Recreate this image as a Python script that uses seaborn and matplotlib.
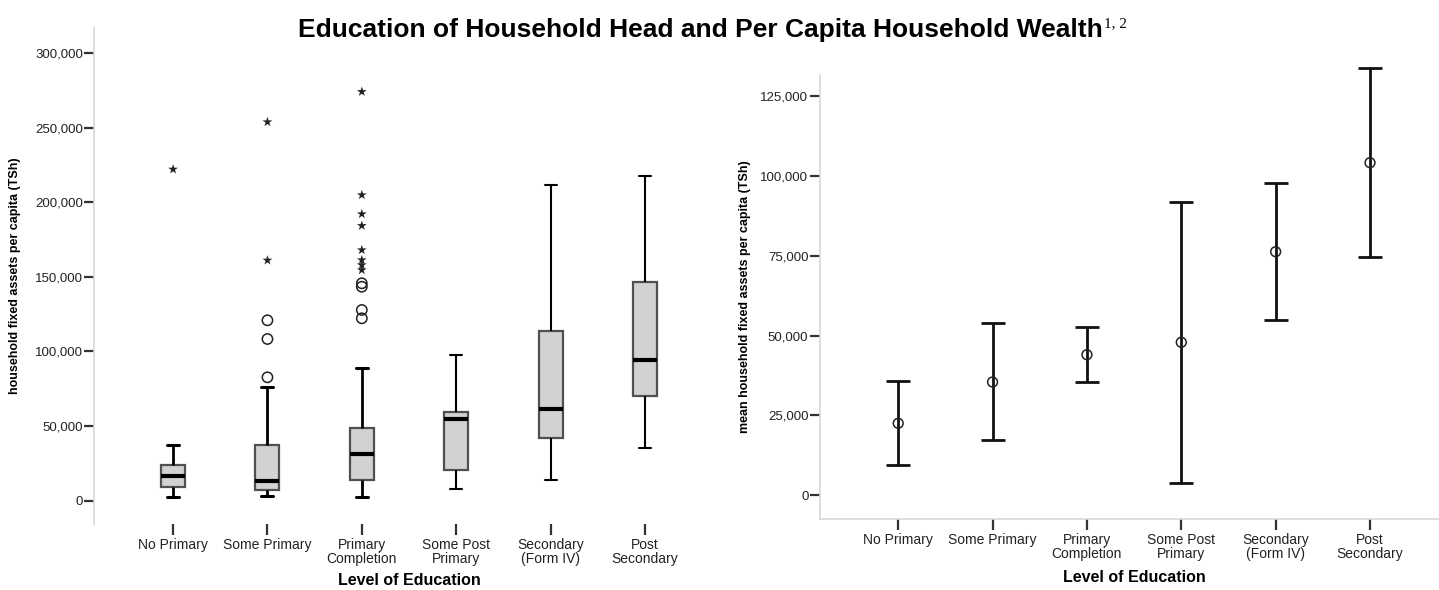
import numpy as np
import pandas as pd
import matplotlib
matplotlib.use("Agg")
import matplotlib.pyplot as plt
from matplotlib.ticker import FuncFormatter
import seaborn as sns

# ---------------- data ----------------
categories = ["No Primary", "Some Primary", "Primary\nCompletion",
              "Some Post\nPrimary", "Secondary\n(Form IV)", "Post\nSecondary"]

# boxplot five-number summaries (TSh)
whisker_low = [2350, 3020, 2350, 7710, 13550, 35020]
box_q1 = [9260, 7040, 13950, 20460, 41920, 70100]
box_median = [16430, 12880, 31390, 54470, 61180, 94050]
box_q3 = [23800, 37430, 48430, 59570, 113700, 146770]
whisker_high = [37560, 76140, 89080, 97600, 211640, 217680]

# outliers (circles) and extremes (stars)
outlier_cat = ["Some Primary"] * 3 + ["Primary\nCompletion"] * 4
outlier_val = [120880, 108330, 82640, 145700, 143400, 127800, 122220]
extreme_cat = ["No Primary", "Some Primary", "Some Primary"] + ["Primary\nCompletion"] * 8
extreme_val = [222170, 253900, 161120, 274220, 204930, 192180, 184330,
               168040, 161330, 157970, 154610]

# means with error bars (right panel)
mean_val = [22480, 35420, 43980, 47870, 76270, 104170]
ci_low = [9350, 17150, 35420, 3860, 54760, 74610]
ci_high = [35740, 53820, 52660, 91940, 97810, 133760]

left_yticks = [0, 50000, 100000, 150000, 200000, 250000, 300000]
right_yticks = [0, 25000, 50000, 75000, 100000, 125000]

title_text = "Education of Household Head and Per Capita Household Wealth"
title_sup = "1, 2"
left_ylabel = "household fixed assets per capita (TSh)"
right_ylabel = "mean household fixed assets per capita (TSh)"
xlabel_text = "Level of Education"

# ---------------- style ----------------
sns.set_style("white")
plt.rcParams["font.family"] = ["Liberation Sans", "DejaVu Sans"]
plt.rcParams["text.color"] = "black"
plt.rcParams["axes.labelcolor"] = "black"

W, H = 1439, 590
fig = plt.figure(figsize=(W / 100, H / 100), dpi=100)

def fig_rect(x0, y0, x1, y1):
    return [x0 / W, 1 - y1 / H, (x1 - x0) / W, (y1 - y0) / H]

ax1 = fig.add_axes(fig_rect(94, 28, 724, 524))
ax2 = fig.add_axes(fig_rect(819.5, 75, 1449, 519))

pos = {c: i for i, c in enumerate(categories)}
fmt = FuncFormatter(lambda v, p: f"{int(v):,}")

# ---------------- left: boxplot ----------------
rows = []
for i, c in enumerate(categories):
    for v in (whisker_low[i], box_q1[i], box_median[i], box_q3[i], whisker_high[i]):
        rows.append((c, v))
box_df = pd.DataFrame(rows, columns=["level", "value"])

sns.boxplot(data=box_df, x="level", y="value", order=categories, ax=ax1,
            whis=(0, 100), width=0.255, color="#d2d2d2", saturation=1,
            showfliers=False, linewidth=1.6, linecolor="#505050",
            medianprops=dict(color="black", linewidth=3),
            whiskerprops=dict(color="black", linewidth=2),
            capprops=dict(color="black", linewidth=2.2))

# thinner whiskers on the last three boxes, as in the reference
for ln in ax1.lines:
    lw = ln.get_linewidth()
    xd = np.asarray(ln.get_xdata(), dtype=float)
    if lw in (2.0, 2.2) and xd.size and xd.mean() > 2.5:
        ln.set_linewidth(1.5)

sns.scatterplot(x=[pos[c] for c in outlier_cat], y=outlier_val, ax=ax1,
                marker="o", s=55, facecolor="none", edgecolor="#222222",
                linewidth=1.1, zorder=5)
sns.scatterplot(x=[pos[c] for c in extreme_cat], y=extreme_val, ax=ax1,
                marker="*", s=55, color="#222222", edgecolor="none",
                linewidth=0, zorder=5)

ax1.set_xlim(-0.838, 5.838)
ax1.set_ylim(-15760, 316950)
ax1.set_yticks(left_yticks)
ax1.yaxis.set_major_formatter(fmt)
ax1.set_xticks(range(len(categories)))
ax1.set_xticklabels(categories)
ax1.spines["top"].set_visible(False)
ax1.spines["right"].set_visible(False)
ax1.spines["bottom"].set_visible(False)
ax1.spines["left"].set_color("#d8d8d8")
ax1.spines["left"].set_linewidth(1.2)

# ---------------- right: mean + error bars ----------------
x_idx = np.arange(len(categories))
yerr = [np.array(mean_val) - np.array(ci_low), np.array(ci_high) - np.array(mean_val)]
ax2.errorbar(x_idx, mean_val, yerr=yerr, fmt="none", ecolor="#111111",
             elinewidth=2, capsize=8.4, capthick=2, clip_on=False, zorder=3)
sns.scatterplot(x=x_idx, y=mean_val, ax=ax2, marker="o", s=50,
                facecolor="none", edgecolor="#222222", linewidth=1.1, zorder=5)

ax2.set_xlim(-0.834, 5.837)
ax2.set_ylim(-7520, 131660)
ax2.set_yticks(right_yticks)
ax2.yaxis.set_major_formatter(fmt)
ax2.set_xticks(x_idx)
ax2.set_xticklabels(categories)
ax2.spines["top"].set_visible(False)
ax2.spines["right"].set_visible(False)
for s in ("left", "bottom"):
    ax2.spines[s].set_color("#d8d8d8")
    ax2.spines[s].set_linewidth(1.2)

# ---------------- common axis styling ----------------
for ax in (ax1, ax2):
    ax.tick_params(axis="y", which="major", left=True, length=7, width=1.6,
                   color="#333333", labelsize=9.5, pad=1, labelcolor="#222222")
    ax.tick_params(axis="x", which="major", bottom=True, length=8, width=1.6,
                   color="#333333", labelsize=10, pad=2, labelcolor="#222222")
    for lbl in ax.get_xticklabels():
        lbl.set_linespacing(1.05)

ax1.set_ylabel(left_ylabel, fontsize=9, fontweight="bold")
ax1.yaxis.set_label_coords(-0.116, 0.5)
ax2.set_ylabel(right_ylabel, fontsize=9, fontweight="bold")
ax2.yaxis.set_label_coords(-0.109, 0.5)
ax1.set_xlabel(xlabel_text, fontsize=11.5, fontweight="bold")
ax1.xaxis.set_label_coords(0.5, -0.0988)
ax2.set_xlabel(xlabel_text, fontsize=11.5, fontweight="bold")
ax2.xaxis.set_label_coords(0.5, -0.115)

# ---------------- title ----------------
t = fig.text(700.5 / W, 1 - 37 / H, title_text, ha="center", va="baseline",
             fontsize=19, fontweight="bold", color="black")
fig.canvas.draw()
bb = t.get_window_extent(fig.canvas.get_renderer())
fig.text(bb.x1 / W + 1.5 / W, 1 - 27 / H, title_sup, ha="left", va="baseline",
         fontsize=11, color="black", family=["Liberation Serif", "DejaVu Serif"])

fig.savefig("out.png", dpi=100)
